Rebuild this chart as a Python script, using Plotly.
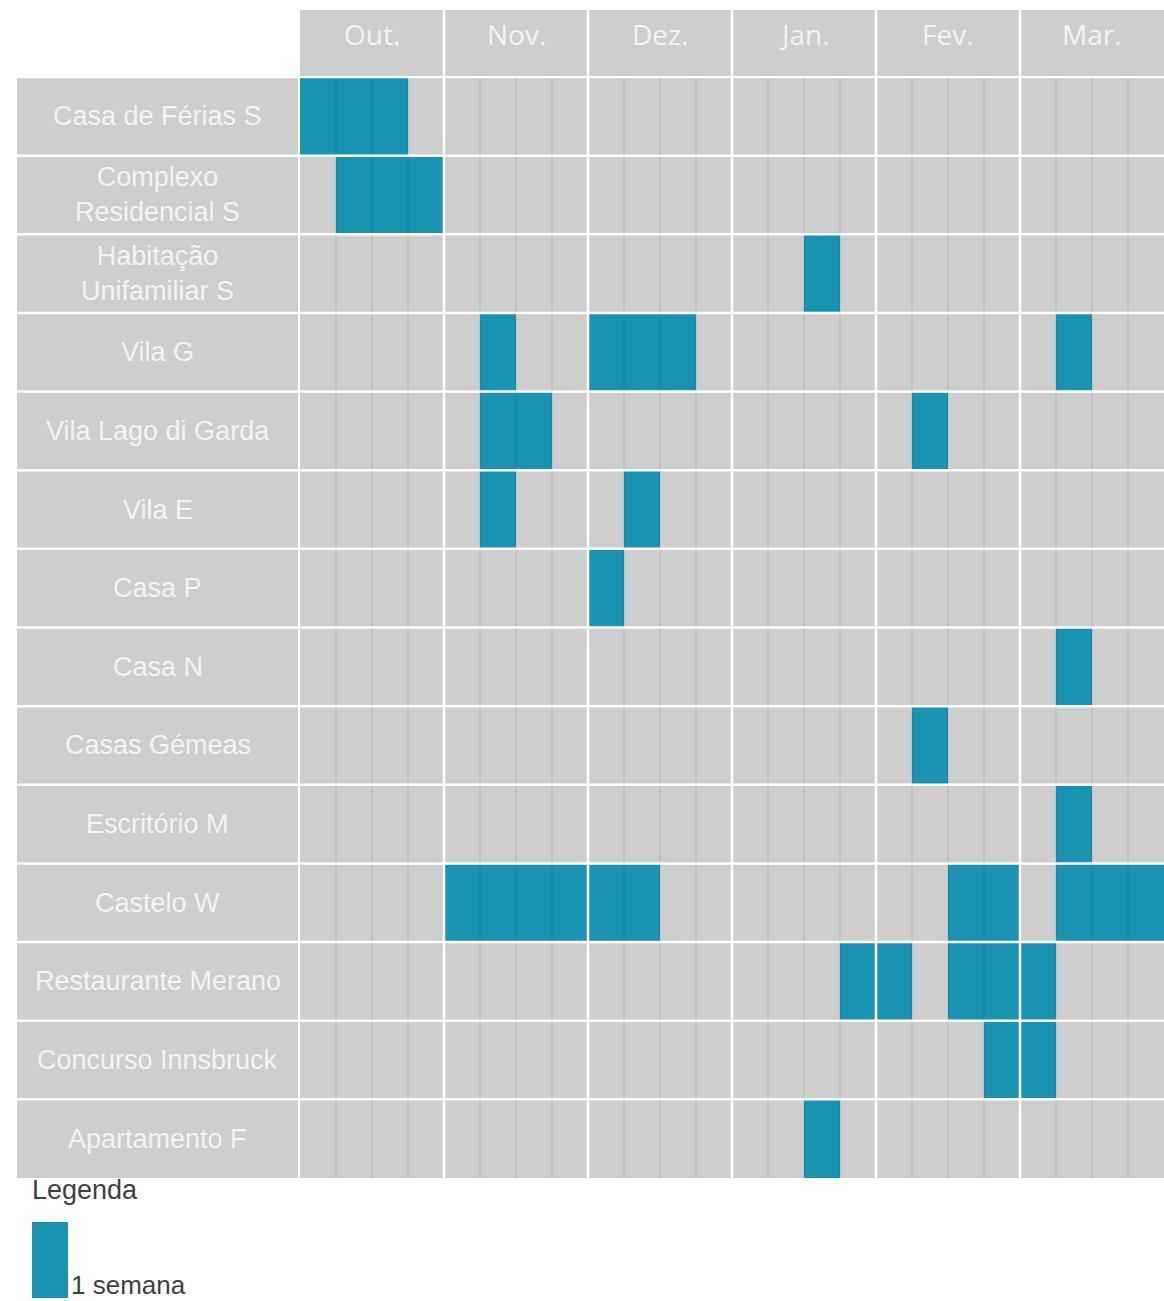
import plotly.graph_objects as go

# Project schedule: weeks (0-based, 4 per month) in which each project is active
months = ["Out.", "Nov.", "Dez.", "Jan.", "Fev.", "Mar."]
weeks_per_month = 4
projects = [
    "Casa de Férias S",
    "Complexo<br>Residencial S",
    "Habitação<br>Unifamiliar S",
    "Vila G",
    "Vila Lago di Garda",
    "Vila E",
    "Casa P",
    "Casa N",
    "Casas Gémeas",
    "Escritório M",
    "Castelo W",
    "Restaurante Merano",
    "Concurso Innsbruck",
    "Apartamento F",
]
active_weeks = [
    [0, 1, 2],
    [1, 2, 3],
    [14],
    [5, 8, 9, 10, 21],
    [5, 6, 17],
    [5, 9],
    [8],
    [21],
    [17],
    [21],
    [4, 5, 6, 7, 8, 9, 18, 19, 21, 22, 23],
    [15, 16, 18, 19, 20],
    [19, 20],
    [14],
]
legend_title = "Legenda"
legend_label = "1 semana"

W, H = 1164, 1301
GRAY = "#cecece"
BLUE = "#1b94b4"
TEXT_LIGHT = "#f4f4f4"

n_weeks = len(months) * weeks_per_month
n_rows = len(projects)

z = [[1 if w in active_weeks[r] else 0 for w in range(n_weeks)] for r in range(n_rows)]


def fx(p):
    return p / W


def fy(p):
    return 1 - p / H


grid_left, grid_top, grid_bottom = 300, 77, 1178
label_left, label_right = 17, 298
header_top, header_bottom = 10, 76

fig = go.Figure(
    go.Heatmap(
        z=z,
        x=list(range(n_weeks)),
        y=list(range(n_rows)),
        zmin=0,
        zmax=1,
        colorscale=[[0, GRAY], [1, BLUE]],
        showscale=False,
        hoverinfo="skip",
    )
)

shapes = []
# label column and month header backgrounds
shapes.append(dict(type="rect", xref="paper", yref="paper",
                   x0=fx(label_left), x1=fx(label_right),
                   y0=fy(grid_bottom), y1=fy(grid_top),
                   fillcolor=GRAY, line_width=0, layer="below"))
shapes.append(dict(type="rect", xref="paper", yref="paper",
                   x0=fx(grid_left), x1=1, y0=fy(header_bottom), y1=fy(header_top),
                   fillcolor=GRAY, line_width=0, layer="below"))
# week separators
for k in range(1, n_weeks):
    if k % weeks_per_month:
        shapes.append(dict(type="line", xref="x", yref="paper",
                           x0=k - 0.5, x1=k - 0.5, y0=fy(grid_bottom), y1=fy(grid_top),
                           line=dict(color="rgba(0,0,0,0.12)", width=1), layer="above"))
# month separators
for m in range(1, len(months)):
    x = m * weeks_per_month - 0.5
    shapes.append(dict(type="line", xref="x", yref="paper",
                       x0=x, x1=x, y0=fy(grid_bottom), y1=fy(header_top),
                       line=dict(color="white", width=2.5), layer="above"))
# row separators
for r in range(0, n_rows):
    shapes.append(dict(type="line", xref="paper", yref="y",
                       x0=fx(label_left), x1=1, y0=r - 0.5, y1=r - 0.5,
                       line=dict(color="white", width=2.5), layer="above"))
# legend swatch
shapes.append(dict(type="rect", xref="paper", yref="paper",
                   x0=fx(32), x1=fx(68), y0=fy(1298), y1=fy(1222),
                   fillcolor=BLUE, line_width=0))

annotations = []
for r, name in enumerate(projects):
    annotations.append(dict(text=name, xref="paper", yref="y",
                            x=fx((label_left + label_right) / 2), y=r,
                            xanchor="center", yanchor="middle", showarrow=False,
                            font=dict(family="Liberation Sans, Arial", size=27, color=TEXT_LIGHT)))
for m, name in enumerate(months):
    annotations.append(dict(text=name, xref="x", yref="paper",
                            x=m * weeks_per_month + 1.5, y=fy(34),
                            xanchor="center", yanchor="middle", showarrow=False,
                            font=dict(family="Open Sans", size=28, color=TEXT_LIGHT)))
annotations.append(dict(text=legend_title, xref="paper", yref="paper",
                        x=fx(30), y=fy(1190), xanchor="left", yanchor="middle",
                        showarrow=False,
                        font=dict(family="Liberation Sans, Arial", size=27, color="#404040")))
annotations.append(dict(text=legend_label, xref="paper", yref="paper",
                        x=fx(70), y=0, xanchor="left", yanchor="bottom",
                        showarrow=False, borderpad=0,
                        font=dict(family="Liberation Sans, Arial", size=26, color="#404040")))

fig.update_layout(
    width=W,
    height=H,
    margin=dict(l=0, r=0, t=0, b=0),
    paper_bgcolor="white",
    plot_bgcolor="white",
    shapes=shapes,
    annotations=annotations,
    showlegend=False,
    xaxis=dict(domain=[fx(grid_left), 1], range=[-0.5, n_weeks - 0.5],
               showgrid=False, zeroline=False, showticklabels=False, fixedrange=True),
    yaxis=dict(domain=[fy(grid_bottom), fy(grid_top)], range=[n_rows - 0.5, -0.5],
               showgrid=False, zeroline=False, showticklabels=False, fixedrange=True),
)

fig.write_html("out.html")
